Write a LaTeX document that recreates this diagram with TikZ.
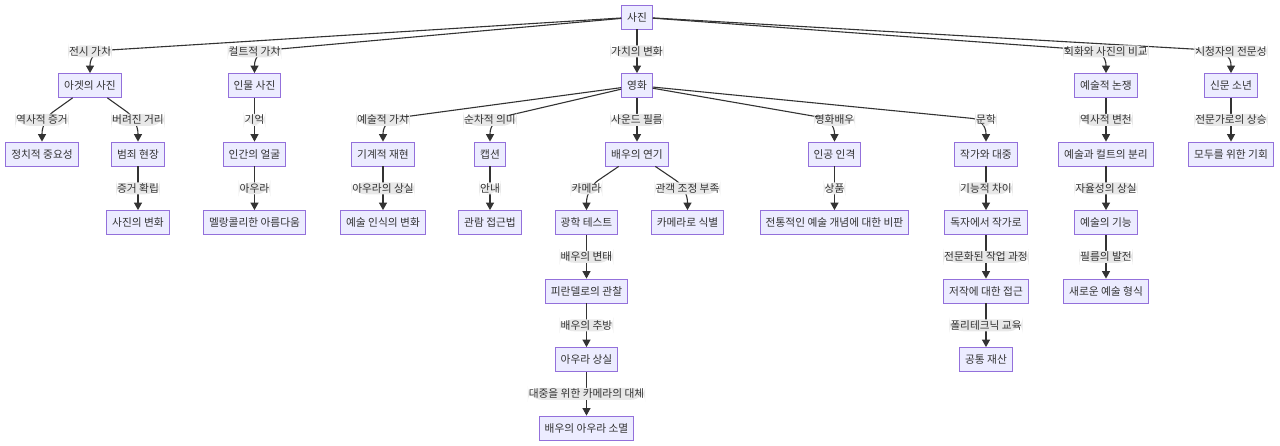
\documentclass[tikz,border=0pt]{standalone}
\usepackage{fontspec}
\setmainfont{Noto Sans CJK KR}
\usepackage{xcolor}
\usetikzlibrary{arrows.meta,positioning,calc}

\definecolor{boxfill}{HTML}{ECECFF}
\definecolor{boxline}{HTML}{9370DB}
\definecolor{linkgray}{HTML}{333333}
\definecolor{tagfill}{HTML}{E8E8E8}

\begin{document}
\begin{tikzpicture}[
  concept/.style={rectangle, draw=boxline, fill=boxfill, line width=0.8pt,
                  font=\fontsize{10.7}{12}\selectfont, text=linkgray,
                  minimum height=24pt, inner xsep=5.5pt, inner ysep=2pt},
  tag/.style={rectangle, fill=tagfill, font=\fontsize{10.7}{12}\selectfont,
              text=linkgray, inner xsep=1pt, inner ysep=1pt, minimum height=12pt},
  link/.style={draw=linkgray, line width=1.1pt, rounded corners=14pt,
               -{Triangle[length=7.5pt,width=8pt]}},
  node distance=43.7pt
]
  \useasboundingbox (0,0) rectangle (1280pt,-445pt);

  % top
  \node[concept] (photo) at (637pt,-17pt) {사진};

  % first rank
  \node[concept, below=of photo, xshift=-547pt] (atget) {아겟의 사진};
  \node[concept, below=of photo, xshift=-382.5pt] (portrait) {인물 사진};
  \node[concept, below=of photo] (film) {영화};
  \node[concept, below=of photo, xshift=469pt] (dispute) {예술적 논쟁};
  \node[concept, below=of photo, xshift=594pt] (newsboy) {신문 소년};

  % second rank
  \node[concept, below=of atget, xshift=-48pt] (politics) {정치적 중요성};
  \node[concept, below=of atget, xshift=48pt] (crime) {범죄 현장};
  \node[concept, below=of portrait] (face) {인간의 얼굴};
  \node[concept, below=of film, xshift=-254pt] (mech) {기계적 재현};
  \node[concept, below=of film, xshift=-147pt] (caption) {캡션};
  \node[concept, below=of film] (acting) {배우의 연기};
  \node[concept, below=of film, xshift=197.5pt] (persona) {인공 인격};
  \node[concept, below=of film, xshift=349pt] (writer) {작가와 대중};
  \node[concept, below=of dispute] (split) {예술과 컬트의 분리};
  \node[concept, below=of newsboy] (chance) {모두를 위한 기회};

  % third rank
  \node[concept, below=of crime] (change) {사진의 변화};
  \node[concept, below=of face] (beauty) {멜랑콜리한 아름다움};
  \node[concept, below=of mech] (percept) {예술 인식의 변화};
  \node[concept, below=of caption] (viewing) {관람 접근법};
  \node[concept, below=of acting, xshift=-50.5pt] (optic) {광학 테스트};
  \node[concept, below=of acting, xshift=50.5pt] (identify) {카메라로 식별};
  \node[concept, below=of persona] (critique) {전통적인 예술 개념에 대한 비판};
  \node[concept, below=of writer] (reader) {독자에서 작가로};
  \node[concept, below=of split] (function) {예술의 기능};

  % lower ranks
  \node[concept, below=of optic] (pirandello) {피란델로의 관찰};
  \node[concept, below=of reader] (access) {저작에 대한 접근};
  \node[concept, below=of function] (newform) {새로운 예술 형식};
  \node[concept, below=of pirandello] (auraloss) {아우라 상실};
  \node[concept, below=of access] (common) {공통 재산};
  \node[concept, below=of auraloss] (fade) {배우의 아우라 소멸};

  % links from the photo
  \draw[link] (photo) -- ($(atget.north)+(0,21.85pt)$) node[tag] {전시 가치} -- (atget);
  \draw[link] (photo) -- ($(portrait.north)+(0,21.85pt)$) node[tag] {컬트적 가치} -- (portrait);
  \draw[link] (photo) -- node[tag] {가치의 변화} (film);
  \draw[link] (photo) -- ($(newsboy.north)+(0,21.85pt)$) node[tag] {시청자의 전문성} -- (newsboy);
  \draw[link] (photo) -- ($(dispute.north)+(0,21.85pt)$) node[tag] {회화와 사진의 비교} -- (dispute);

  \draw[link] (atget) -- ($(politics.north)+(0,21.85pt)$) node[tag] {역사적 증거} -- (politics);
  \draw[link] (atget) -- ($(crime.north)+(0,21.85pt)$) node[tag] {버려진 거리} -- (crime);
  \draw[link] (crime) -- node[tag] {증거 확립} (change);
  \draw[link] (portrait) -- node[tag] {기억} (face);
  \draw[link] (face) -- node[tag] {아우라} (beauty);

  % links from the film
  \draw[link] (film) -- ($(mech.north)+(0,21.85pt)$) node[tag] {예술적 가치} -- (mech);
  \draw[link] (film) -- ($(caption.north)+(0,21.85pt)$) node[tag] {순차적 의미} -- (caption);
  \draw[link] (film) -- node[tag] {사운드 필름} (acting);
  \draw[link] (film) -- ($(writer.north)+(0,21.85pt)$) node[tag] {문학} -- (writer);
  \draw[link] (film) -- ($(persona.north)+(0,21.85pt)$) node[tag] {영화배우} -- (persona);
  \draw[link] (mech) -- node[tag] {아우라의 상실} (percept);
  \draw[link] (caption) -- node[tag] {안내} (viewing);
  \draw[link] (acting) -- ($(optic.north)+(0,21.85pt)$) node[tag] {카메라} -- (optic);
  \draw[link] (acting) -- ($(identify.north)+(0,21.85pt)$) node[tag] {관객 조정 부족} -- (identify);
  \draw[link] (optic) -- node[tag] {배우의 변태} (pirandello);
  \draw[link] (pirandello) -- node[tag] {배우의 추방} (auraloss);
  \draw[link] (auraloss) -- node[tag] {대중을 위한 카메라의 대체} (fade);
  \draw[link] (persona) -- node[tag] {상품} (critique);
  \draw[link] (writer) -- node[tag] {기능적 차이} (reader);
  \draw[link] (reader) -- node[tag] {전문화된 작업 과정} (access);
  \draw[link] (access) -- node[tag] {폴리테크닉 교육} (common);

  % links on the right
  \draw[link] (dispute) -- node[tag] {역사적 변천} (split);
  \draw[link] (split) -- node[tag] {자율성의 상실} (function);
  \draw[link] (function) -- node[tag] {필름의 발전} (newform);
  \draw[link] (newsboy) -- node[tag] {전문가로의 상승} (chance);
\end{tikzpicture}
\end{document}
